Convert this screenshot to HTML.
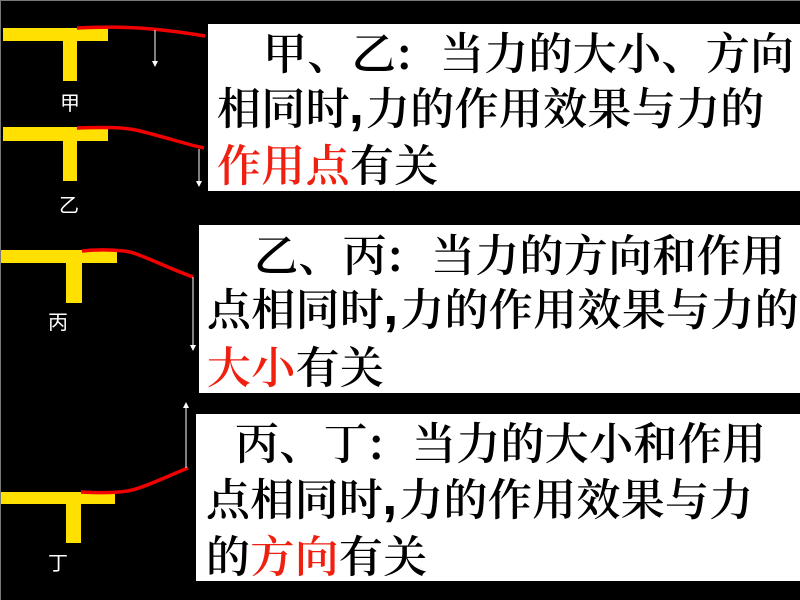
<!DOCTYPE html>
<html><head><meta charset="utf-8"><style>
html,body{margin:0;padding:0;background:#000}
#s{position:relative;width:800px;height:600px;overflow:hidden;background:#000}
.b{position:absolute;background:#fff;right:0}
.l{position:absolute;white-space:nowrap;font:600 44px/56px "Noto Serif CJK SC","Liberation Serif",serif;color:#000;letter-spacing:.3px}
.l b{font:bold 54px/56px "Liberation Sans",sans-serif;display:inline-block;width:16px;transform:translate(-1px,-1px)}
.l i{font-style:normal;font-weight:700;display:inline-block;width:44px;transform:translateX(1px)}
.r{color:#f02010}
.t{position:absolute;color:#fff;font:20px/24px "Noto Sans CJK SC",sans-serif;white-space:nowrap}
svg{position:absolute;left:0;top:0}
</style></head><body><div id="s">
<div class="b" style="left:208px;top:24px;height:167px"></div>
<div class="b" style="left:199px;top:225px;height:168px"></div>
<div class="b" style="left:196px;top:414px;height:167px"></div>
<svg width="800" height="600">
<g fill="#ffe000">
<rect x="3" y="28" width="105" height="13"/><rect x="63" y="41" width="14" height="40"/>
<rect x="3" y="127" width="105" height="14"/><rect x="63" y="141" width="14" height="40"/>
<rect x="0" y="250" width="117" height="13"/><rect x="66" y="263" width="16" height="40"/>
<rect x="0" y="492" width="115" height="12"/><rect x="66" y="504" width="15" height="39"/>
</g>
<g fill="none" stroke="#f00000" stroke-width="3.5">
<path d="M77 28C120 26 150 27 205 36"/>
<path d="M77 128C105 127 125 127 140 131C165 137 185 144 204 148"/>
<path d="M82 251C100 249 120 250 130 252C145 256 170 269 193 277"/>
<path d="M81 492C100 493 120 493 132 490C148 486 170 475 188 468"/>
</g>
<g stroke="#fff" stroke-width="1">
<path d="M155 30V62"/><path d="M199 149V181"/><path d="M193 277V346"/><path d="M186 468V408"/>
</g>
<g fill="#fff">
<path d="M152 61h6l-3 6z"/><path d="M196 181h6l-3 6z"/><path d="M190 345h6l-3 6z"/><path d="M183 408h6l-3-6z"/>
</g>
<rect x="0" y="0" width="800" height="1" fill="#777"/>
<rect x="0" y="0" width="1" height="600" fill="#777"/>
</svg>
<div class="t" style="left:60px;top:90px">甲</div>
<div class="t" style="left:59px;top:192px">乙</div>
<div class="t" style="left:48px;top:309px">丙</div>
<div class="t" style="left:48px;top:550px">丁</div>
<div class="l" style="left:263px;top:22px">甲、乙<i>:</i>当力的大小、方向</div>
<div class="l" style="left:217px;top:77px">相同时<b>,</b>力的作用效果与力的</div>
<div class="l" style="left:217px;top:134px"><span class="r">作用点</span>有关</div>
<div class="l" style="left:254px;top:224px">乙、丙<i>:</i>当力的方向和作用</div>
<div class="l" style="left:207px;top:278px">点相同时<b>,</b>力的作用效果与力的</div>
<div class="l" style="left:207px;top:336px"><span class="r">大小</span>有关</div>
<div class="l" style="left:235px;top:412px">丙、丁<i>:</i>当力的大小和作用</div>
<div class="l" style="left:206px;top:468px">点相同时<b>,</b>力的作用效果与力</div>
<div class="l" style="left:206px;top:525px">的<span class="r">方向</span>有关</div>
</div></body></html>
